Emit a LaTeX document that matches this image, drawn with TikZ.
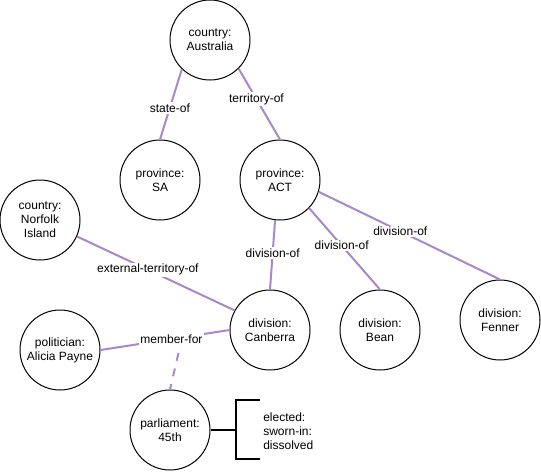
\documentclass[tikz,border=0pt]{standalone}
\usepackage{fontspec}
\setmainfont{Liberation Sans}
\usetikzlibrary{calc}
\definecolor{edgepurple}{RGB}{168,136,200}
\begin{document}
\begin{tikzpicture}[x=0.75pt,y=-0.75pt,
  ent/.style={circle,draw=black,line width=0.75pt,minimum size=60pt,inner sep=0pt,align=center,font=\fontsize{9}{10.5}\selectfont,fill=white},
  rel/.style={draw=edgepurple,line width=1.5pt},
  lbl/.style={fill=white,inner sep=1pt,font=\fontsize{9}{10.5}\selectfont},
  bracketline/.style={draw=black,line width=1.5pt}]
\useasboundingbox (0,0) rectangle (541,471);
\node[ent] (aus) at (210,40) {country:\\Australia};
\node[ent] (sa) at (160,180) {province:\\SA};
\node[ent] (act) at (280,180) {province:\\ACT};
\node[ent] (nor) at (40,220) {country:\\Norfolk\\Island};
\node[ent] (can) at (270,330) {division:\\Canberra};
\node[ent] (ali) at (60,350) {politician:\\Alicia Payne};
\node[ent] (bean) at (380,330) {division:\\Bean};
\node[ent] (fen) at (500,320) {division:\\Fenner};
\node[ent] (parl) at (170,430) {parliament:\\45th};

\coordinate (mf) at ($(ali.east)!0.633!(can.west)$);
\draw[rel,dashed,dash pattern=on 6pt off 6pt] (mf) -- (parl.north);

\draw[rel] (aus.226) -- node[lbl,pos=0.55] {state-of} (sa.north);
\draw[rel] (aus.315) -- node[lbl,pos=0.43] {territory-of} (act.north);
\draw[rel] (act.263) -- node[lbl,pos=0.47] {division-of} (can.north);
\draw[rel] (act.316) -- node[lbl,pos=0.46] {division-of} (bean.north);
\draw[rel] (act.-17) -- node[lbl,pos=0.45] {division-of} (fen.north);
\draw[rel] (nor.-24) -- node[lbl,pos=0.45] {external-territory-of} (can.151);
\draw[rel] (ali.east) -- node[lbl,pos=0.55] {member-for} (can.west);

\coordinate (bj) at (236,430);
\coordinate (bt) at (236,400);
\coordinate (bb) at (236,459);
\coordinate (btt) at (260,400);
\coordinate (bbt) at (260,459);
\draw[bracketline] (parl.east) -- (bj);
\draw[bracketline] (btt) -- (bt) -- (bb) -- (bbt);
\node[anchor=west,align=left,inner sep=0pt,font=\fontsize{9}{10.5}\selectfont] (dates) at (263,431) {elected:\\sworn-in:\\dissolved};
\end{tikzpicture}
\end{document}
